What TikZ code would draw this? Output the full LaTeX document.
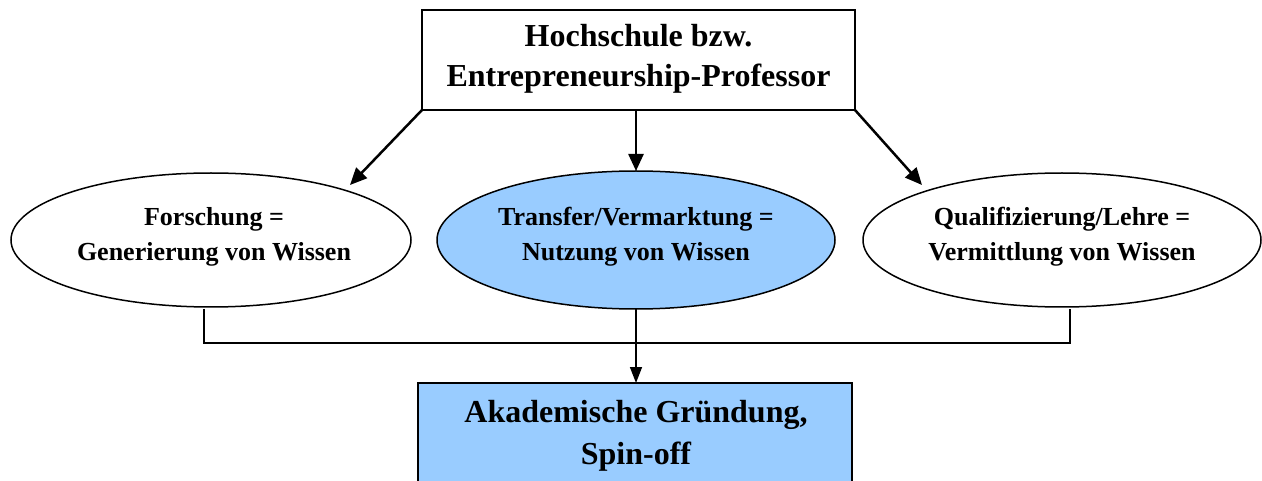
\documentclass[tikz,border=0pt]{standalone}
\usepackage{fontspec}
\setmainfont{Liberation Serif}
\usetikzlibrary{arrows.meta}
\definecolor{lblue}{HTML}{99CCFF}
\tikzset{
  boxline/.style={draw=black, line width=1.5pt},
  bigtxt/.style={align=center, inner sep=0pt, font=\fontsize{32}{40}\selectfont\bfseries},
  txt/.style={align=center, inner sep=0pt, font=\fontsize{26}{35}\selectfont\bfseries},
  arr/.style={line width=2.5pt, -{Triangle[length=17pt,width=15pt]}},
  thin/.style={line width=1.5pt},
  tarr/.style={line width=1.5pt, -{Triangle[length=16pt,width=12pt]}}
}
\begin{document}
\begin{tikzpicture}[x=1pt,y=-1pt]
\clip (0,0) rectangle (1262,481);
\fill[white] (0,0) rectangle (1262,481);
% top box
\draw[boxline, fill=white] (422,10) rectangle (855,110);
\node[bigtxt] (top) at (638.5,59) {Hochschule bzw.\\Entrepreneurship-Professor};
\coordinate (tl) at (422,110);
\coordinate (tm) at (636,110);
\coordinate (tr) at (855,110);
% ellipses
\draw[boxline, fill=white] (211,240) ellipse [x radius=200, y radius=67];
\draw[boxline, fill=lblue] (636,240) ellipse [x radius=199, y radius=69];
\draw[boxline, fill=white] (1062,240) ellipse [x radius=199, y radius=67];
\node[txt] (e1) at (214,237) {Forschung =\\Generierung von Wissen};
\node[txt] (e2) at (636,237) {Transfer/Vermarktung =\\Nutzung von Wissen};
\node[txt] (e3) at (1062,237) {Qualifizierung/Lehre =\\Vermittlung von Wissen};
\coordinate (e1t) at (350,185);
\coordinate (e2t) at (636,171);
\coordinate (e3t) at (922,185);
\coordinate (e1b) at (204,309);
\coordinate (e2b) at (636,309);
\coordinate (e3b) at (1070,309);
\coordinate (j1) at (204,343);
\coordinate (j3) at (1070,343);
% arrows from top
\draw[arr] (tl) -- (e1t);
\draw[arr] (tm) -- (e2t);
\draw[arr] (tr) -- (e3t);
% bottom box
\draw[boxline, fill=lblue] (418,383) rectangle (852,500);
\node[bigtxt, font=\fontsize{32}{42}\selectfont\bfseries] (bot) at (636,436) {Akademische Gründung,\\Spin-off};
\coordinate (bt) at (636,383);
% bracket
\draw[thin] (e1b) -- (j1) -- (j3) -- (e3b);
\draw[tarr] (e2b) -- (bt);
\end{tikzpicture}
\end{document}
